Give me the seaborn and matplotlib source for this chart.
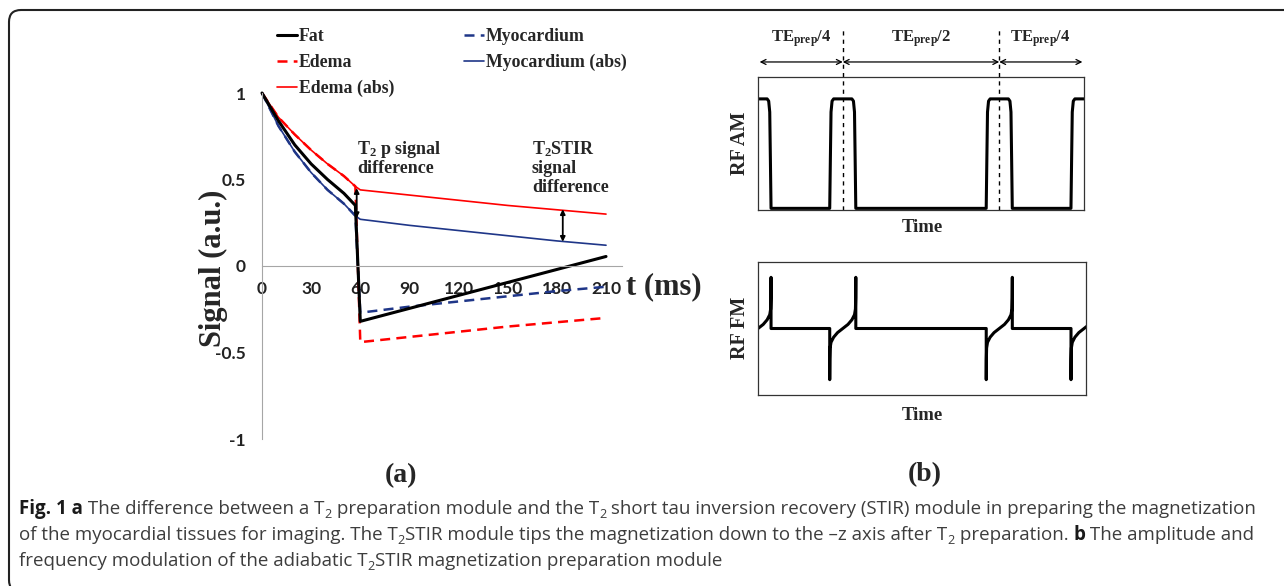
import matplotlib
matplotlib.use("Agg")
import pandas as pd
import matplotlib.pyplot as plt
import seaborn as sns
from matplotlib.patches import FancyBboxPatch
from matplotlib.transforms import IdentityTransform
from matplotlib.font_manager import FontProperties, fontManager

# ---- panel (a): signal curves ----
t_ms = [0, 10, 20, 30, 40, 50, 57, 60, 90, 120, 150, 180, 210]
fat = [1.0, 0.84, 0.70, 0.59, 0.50, 0.42, 0.35, -0.32, -0.245, -0.17, -0.095, -0.02, 0.055]
edema = [1.0, 0.86, 0.76, 0.67, 0.59, 0.52, 0.46, -0.44, -0.41, -0.38, -0.35, -0.325, -0.30]
edema_abs = [1.0, 0.86, 0.76, 0.67, 0.59, 0.52, 0.46, 0.44, 0.41, 0.38, 0.35, 0.325, 0.30]
myo = [1.0, 0.81, 0.66, 0.54, 0.44, 0.36, 0.29, -0.27, -0.235, -0.205, -0.175, -0.145, -0.12]
myo_abs = [1.0, 0.81, 0.66, 0.54, 0.44, 0.36, 0.29, 0.27, 0.235, 0.205, 0.175, 0.145, 0.12]
x_ticks = [0, 30, 60, 90, 120, 150, 180, 210]
y_ticks = [-1, -0.5, 0, 0.5, 1]
y_ticklabels = ["-1", "-0.5", "0", "0.5", "1"]
t2p_arrow = (57.8, 0.45, 0.277)      # t, top, bottom
stir_arrow = (183.6, 0.328, 0.14)

# ---- panel (b): RF pulse shapes ----
pulse_centres = [0, 26, 74, 100]
pulse_half = 4
am_u = [-1.0, -0.95, -0.9, -0.82, -0.7, 0.7, 0.82, 0.9, 0.95, 1.0]
am_v = [0.0, 0.45, 0.88, 0.98, 1.0, 1.0, 0.98, 0.88, 0.45, 0.0]
fm_u = [-1.0, -0.99, -0.97, -0.9, -0.7, -0.4, 0, 0.4, 0.7, 0.9, 0.97, 0.99, 1.0]
fm_v = [-1.0, -0.6, -0.38, -0.27, -0.17, -0.08, 0, 0.08, 0.17, 0.27, 0.38, 0.6, 1.0]
arrow_marks = [0.5, 26, 74, 99.5]
te_labels = [r"$\mathbf{TE_{prep}/4}$", r"$\mathbf{TE_{prep}/2}$", r"$\mathbf{TE_{prep}/4}$"]

sns.set_style("white")
plt.rcParams["font.family"] = ["Liberation Serif", "DejaVu Serif"]
plt.rcParams["mathtext.fontset"] = "custom"
plt.rcParams["mathtext.rm"] = "Liberation Serif:bold"
plt.rcParams["mathtext.bf"] = "Liberation Serif:bold"
plt.rcParams["mathtext.it"] = "Liberation Serif:bold:italic"

W, H = 1284, 586
fig = plt.figure(figsize=(W / 100, H / 100), dpi=100)


def fx(px):
    return px / W


def fy(py):
    return 1 - py / H


serif_b = dict(family="Liberation Serif", weight="bold")

# outer frame
frame = FancyBboxPatch((9, -6), 1300, 586 - 10 + 6, boxstyle="round,pad=0,rounding_size=12",
                       transform=IdentityTransform(), fill=False, lw=1.5, ec="#222222")
fig.add_artist(frame)

# ---------------- panel (a) ----------------
ax = fig.add_axes([fx(262), fy(439), (622.4 - 262) / W, (439 - 93) / H])
df = pd.DataFrame({"t": t_ms, "Fat": fat, "Edema": edema, "Edema (abs)": edema_abs,
                   "Myocardium": myo, "Myocardium (abs)": myo_abs})
navy = "#1f3688"
styles = {
    "Edema": dict(color="#ff0000", linewidth=1.8, linestyle=(0, (4, 2.5))),
    "Myocardium": dict(color=navy, linewidth=1.8, linestyle=(0, (4, 2.5))),
    "Edema (abs)": dict(color="#ff0000", linewidth=1.2),
    "Myocardium (abs)": dict(color=navy, linewidth=1.2),
    "Fat": dict(color="black", linewidth=2.2),
}
for name in ["Edema", "Myocardium", "Edema (abs)", "Myocardium (abs)", "Fat"]:
    sns.lineplot(data=df, x="t", y=name, ax=ax, sort=False, estimator=None,
                 label=name, clip_on=False, **styles[name])

ax.set_xlim(0, 220)
ax.set_ylim(-1, 1)
ax.set_xlabel("")
ax.set_ylabel("")
for s in ["top", "right"]:
    ax.spines[s].set_visible(False)
ax.spines["left"].set_color("#a6a6a6")
ax.spines["bottom"].set_color("#a6a6a6")
ax.spines["bottom"].set_position(("data", 0))
tick_font = dict(fontfamily="Lato", fontweight="bold", fontsize=12.5)
ax.set_xticks(x_ticks, [str(v) for v in x_ticks], **tick_font)
ax.set_yticks(y_ticks, y_ticklabels, **tick_font)
ax.tick_params(axis="both", length=3.5, width=0.8, color="#a6a6a6", labelcolor="#222222")
ax.tick_params(axis="y", pad=8)
ax.tick_params(axis="x", pad=7)

handles, labels = ax.get_legend_handles_labels()
hmap = dict(zip(labels, handles))
ax.get_legend().remove()
order = ["Fat", "Edema", "Edema (abs)", "Myocardium", "Myocardium (abs)"]
fig.legend([hmap[k] for k in order], order, loc="upper left", bbox_to_anchor=(fx(277), fy(28)),
           ncol=2, frameon=False, prop=dict(size=12.8, **serif_b), handlelength=1.15,
           handletextpad=0.1, columnspacing=3.9, labelspacing=0.5, borderpad=0, borderaxespad=0)

for (tx, top, bot) in [t2p_arrow, stir_arrow]:
    ax.annotate("", xy=(tx, top), xytext=(tx, bot),
                arrowprops=dict(arrowstyle="<|-|>", lw=1.3, color="black", shrinkA=0, shrinkB=0,
                                mutation_scale=7))

ax.text(58, 0.735, r"$\mathbf{T_2}$ p signal" + "\ndifference", ha="left", va="top",
        fontsize=13, linespacing=1.05, **serif_b)
ax.text(164.8, 0.735, r"$\mathbf{T_2}$STIR" + "\nsignal\ndifference", ha="left", va="top",
        fontsize=13, linespacing=1.15, **serif_b)

fig.text(fx(213), fy(268), "Signal (a.u.)", rotation=90, ha="center", va="center", fontsize=22, **serif_b)
fig.text(fx(626), fy(287), "t (ms)", ha="left", va="center", fontsize=22, **serif_b)
fig.text(fx(401), fy(476), "(a)", ha="center", va="center", fontsize=20, **serif_b)
fig.text(fx(925), fy(475), "(b)", ha="center", va="center", fontsize=20, **serif_b)

# ---------------- panel (b) ----------------
am_t, am_y = [], []
for c in pulse_centres:
    am_t += [c + pulse_half * u for u in am_u]
    am_y += list(am_v)
fm_t, fm_y = [], []
for c in pulse_centres:
    fm_t += [c - pulse_half] + [c + pulse_half * u for u in fm_u] + [c + pulse_half]
    fm_y += [0] + list(fm_v) + [0]

ax_am = fig.add_axes([fx(758), fy(210), 326 / W, 133 / H])
sns.lineplot(x=am_t, y=am_y, ax=ax_am, sort=False, estimator=None, color="black", linewidth=2.2)
ax_am.set_xlim(0, 100)
ax_am.set_ylim(-0.015, 1.2)

ax_fm = fig.add_axes([fx(758), fy(395), 328 / W, 133 / H])
sns.lineplot(x=fm_t, y=fm_y, ax=ax_fm, sort=False, estimator=None, color="black", linewidth=2.2)
ax_fm.set_xlim(0, 100.6)
ax_fm.set_ylim(-1.3, 1.3)

for a in [ax_am, ax_fm]:
    a.set_xticks([])
    a.set_yticks([])
    for s in a.spines.values():
        s.set_visible(True)
        s.set_color("#333333")
        s.set_linewidth(0.9)

trans = ax_am.get_xaxis_transform()
for c in arrow_marks[1:-1]:
    ax_am.plot([c, c], [0, 1.376], transform=trans, clip_on=False, color="black",
               lw=1.0, linestyle=(0, (3, 3)))
for i in range(3):
    ax_am.annotate("", xy=(arrow_marks[i], 1.113), xytext=(arrow_marks[i + 1], 1.113),
                   xycoords=trans, textcoords=trans,
                   arrowprops=dict(arrowstyle="<->", lw=0.9, color="black", shrinkA=0, shrinkB=0,
                                   mutation_scale=9))
    ax_am.text((arrow_marks[i] + arrow_marks[i + 1]) / 2, 1.29, te_labels[i], transform=trans,
               ha="center", va="center", fontsize=12)

fig.text(fx(740), fy(143), "RF AM", rotation=90, ha="center", va="center", fontsize=14.5, **serif_b)
fig.text(fx(922), fy(228), "Time", ha="center", va="center", fontsize=13.5, **serif_b)
fig.text(fx(740), fy(328), "RF FM", rotation=90, ha="center", va="center", fontsize=14.5, **serif_b)
fig.text(fx(922), fy(415), "Time", ha="center", va="center", fontsize=13.5, **serif_b)

# ---------------- caption ----------------
cap_lines = [
    [("Fig. 1 a", "b"), (" The difference between a T", "r"), ("2", "s"),
     (" preparation module and the T", "r"), ("2", "s"),
     (" short tau inversion recovery (STIR) module in preparing the magnetization", "r")],
    [("of the myocardial tissues for imaging. The T", "r"), ("2", "s"),
     ("STIR module tips the magnetization down to the \u2013z axis after T", "r"), ("2", "s"),
     (" preparation. ", "r"), ("b", "b"), (" The amplitude and", "r")],
    [("frequency modulation of the adiabatic T", "r"), ("2", "s"),
     ("STIR magnetization preparation module", "r")],
]
cap_baselines = [514, 540, 566]
installed = {f.name for f in fontManager.ttflist}
cap_family = "Liberation Sans Narrow" if "Liberation Sans Narrow" in installed else "Open Sans"
cap_colors = {"r": "#3d3d3d", "b": "#1a1a1a", "s": "#3d3d3d"}
renderer = fig.canvas.get_renderer()


def cap_font(kind, size):
    return FontProperties(family=cap_family, weight="bold" if kind == "b" else "normal",
                          size=size * (0.68 if kind == "s" else 1.0))


def text_w(s, fp):
    w1 = renderer.get_text_width_height_descent("|" + s + "|", fp, ismath=False)[0]
    w0 = renderer.get_text_width_height_descent("||", fp, ismath=False)[0]
    return w1 - w0


base = 12.5
line_w = sum(text_w(s, cap_font(k, base)) for s, k in cap_lines[0])
cap_size = min(13.5, base * (1259 - 19) / line_w)

for parts, yb in zip(cap_lines, cap_baselines):
    x = 19
    for s, k in parts:
        fp = cap_font(k, cap_size)
        y = yb + (4 if k == "s" else 0)
        fig.text(fx(x), fy(y), s, fontproperties=fp, color=cap_colors[k], ha="left", va="baseline")
        x += text_w(s, fp)

fig.savefig("out.png", dpi=100)
